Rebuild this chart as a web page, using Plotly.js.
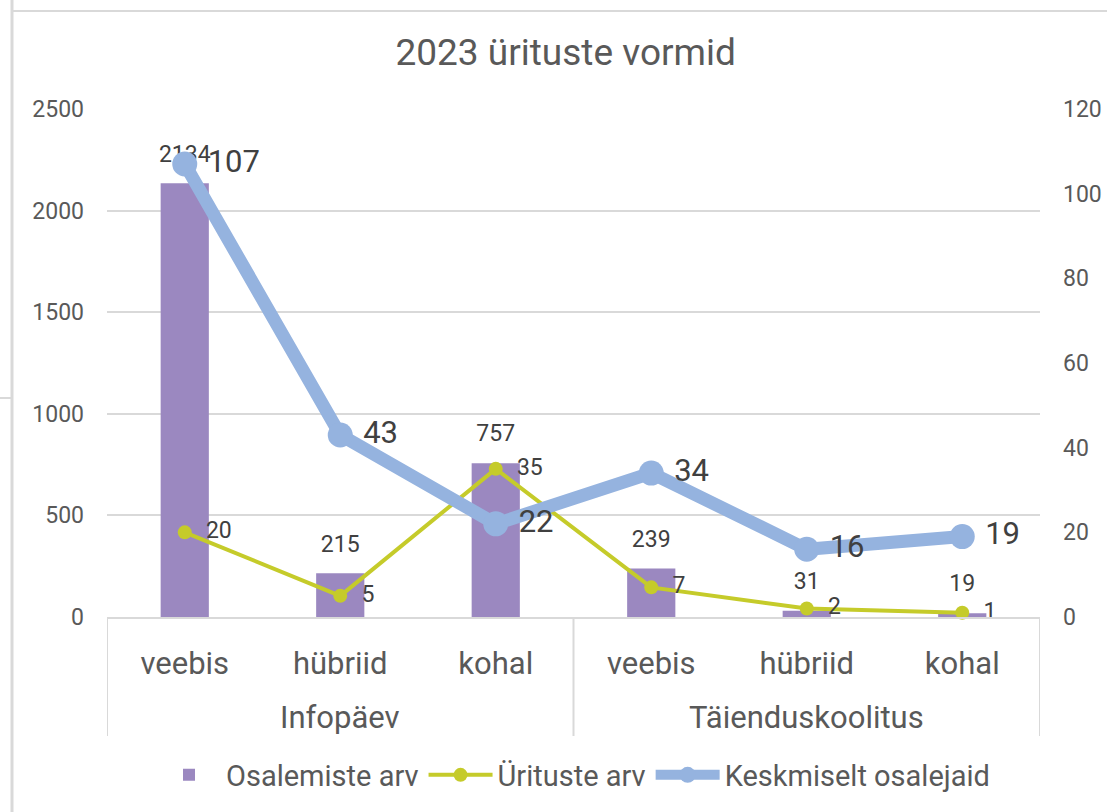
<!DOCTYPE html>
<html>
<head>
<meta charset="utf-8">
<script src="https://cdn.plot.ly/plotly-3.0.1.min.js"></script>
<style>html,body{margin:0;padding:0;background:#fff;}#chart{width:1107px;height:812px;}</style>
</head>
<body>
<div id="chart"></div>
<script>
const groups = ["Infopäev","Infopäev","Infopäev","Täienduskoolitus","Täienduskoolitus","Täienduskoolitus"];
const forms = ["veebis","hübriid","kohal","veebis","hübriid","kohal"];
const osalemisteArv = [2134, 215, 757, 239, 31, 19];
const uritusteArv = [20, 5, 35, 7, 2, 1];
const keskmiseltOsalejaid = [107, 43, 22, 34, 16, 19];

const textColor = "#404040";
const axisText = "#595959";
const frame = "#d9d9d9";
const idx = forms.map((f, i) => i);
const nb = "\u00a0";

const traces = [
  {
    type: "bar", name: "Osalemiste arv", x: idx, y: osalemisteArv,
    marker: {color: "#9b88c0"},
    cliponaxis: false, yaxis: "y"
  },
  {
    type: "scatter", mode: "lines+markers+text", name: "Ürituste arv", x: idx, y: uritusteArv,
    line: {color: "#c5cb2a", width: 4},
    marker: {color: "#c5cb2a", size: 14},
    text: uritusteArv.map(v => nb + nb + v), textposition: "middle right",
    textfont: {family: "Roboto", size: 23, color: textColor},
    cliponaxis: false, yaxis: "y2"
  },
  {
    type: "scatter", mode: "lines+markers+text", name: "Keskmiselt osalejaid", x: idx, y: keskmiseltOsalejaid,
    line: {color: "#95b3df", width: 13},
    marker: {color: "#95b3df", size: 25},
    text: keskmiseltOsalejaid.map(v => "\u2009" + v), textposition: "middle right",
    textfont: {family: "Roboto", size: 31, color: textColor},
    cliponaxis: false, yaxis: "y2"
  },
  {
    type: "scatter", mode: "markers+text", name: "Osalemiste arv (sildid)", x: idx, y: osalemisteArv,
    marker: {size: 24, opacity: 0, color: "#ffffff"},
    text: osalemisteArv.map(String), textposition: "top center",
    textfont: {family: "Roboto", size: 23, color: textColor},
    showlegend: false, hoverinfo: "skip", cliponaxis: false, yaxis: "y"
  }
];

const L = 107, R = 1040, T = 109, B = 617;
const py = v => (B - v) / (B - T);
const px = v => (v - L) / (R - L);

const groupNames = [...new Set(groups)];
const annotations = groupNames.map(g => {
  const ids = idx.filter(i => groups[i] === g);
  return {
    text: g, x: (ids[0] + ids[ids.length - 1]) / 2, xref: "x", y: py(717), yref: "paper",
    showarrow: false, xanchor: "center", yanchor: "middle",
    font: {family: "Roboto", size: 31, color: axisText}
  };
});
const dividerPos = [-0.5];
idx.forEach(i => { if (i > 0 && groups[i] !== groups[i - 1]) dividerPos.push(i - 0.5); });
dividerPos.push(idx.length - 0.5);
const shapes = dividerPos.map(p => ({
  type: "line", xref: "x", yref: "paper", x0: p, x1: p, y0: 0, y1: py(736),
  line: {color: frame, width: 2}
}));
shapes.push(
  {type: "line", xref: "paper", yref: "paper", x0: px(12), x1: px(12), y0: py(0), y1: py(812), line: {color: frame, width: 3}},
  {type: "line", xref: "paper", yref: "paper", x0: px(12), x1: px(1107), y0: py(11), y1: py(11), line: {color: frame, width: 2}},
  {type: "line", xref: "paper", yref: "paper", x0: px(0), x1: px(12), y0: py(398), y1: py(398), line: {color: frame, width: 2}}
);

const layout = {
  width: 1107, height: 812,
  paper_bgcolor: "#ffffff", plot_bgcolor: "#ffffff",
  margin: {l: L, r: 1107 - R, t: T, b: 812 - B, pad: 0, autoexpand: false},
  font: {family: "Roboto", color: axisText},
  title: {text: "2023 ürituste vormid", font: {family: "Roboto", size: 37, color: axisText},
          x: 0.511, xanchor: "center", y: 1 - 52/812, yanchor: "middle"},
  bargap: 0.69,
  showlegend: true,
  legend: {orientation: "h", x: 0.5, xanchor: "center", y: py(775), yanchor: "middle",
           font: {family: "Roboto", size: 29, color: axisText}, itemwidth: 64, traceorder: "normal"},
  xaxis: {
    range: [-0.5, idx.length - 0.5],
    tickmode: "array", tickvals: idx, ticktext: forms,
    tickfont: {family: "Roboto", size: 31, color: axisText},
    ticklabelstandoff: 18,
    showline: true, linecolor: frame, linewidth: 2,
    ticks: "", showgrid: false, zeroline: false
  },
  yaxis: {
    range: [0, 2500], dtick: 500, tick0: 0,
    showgrid: true, gridcolor: frame, gridwidth: 2,
    zeroline: false, showline: false, ticks: "",
    tickfont: {family: "Roboto", size: 23, color: axisText},
    ticklabelstandoff: 22
  },
  yaxis2: {
    range: [0, 120], dtick: 20, tick0: 0, overlaying: "y", side: "right",
    showgrid: false, zeroline: false, showline: false, ticks: "",
    tickfont: {family: "Roboto", size: 23, color: axisText},
    ticklabelstandoff: 22
  },
  annotations: annotations,
  shapes: shapes
};

Plotly.newPlot("chart", traces, layout, {displayModeBar: false, staticPlot: true});
</script>
</body>
</html>
